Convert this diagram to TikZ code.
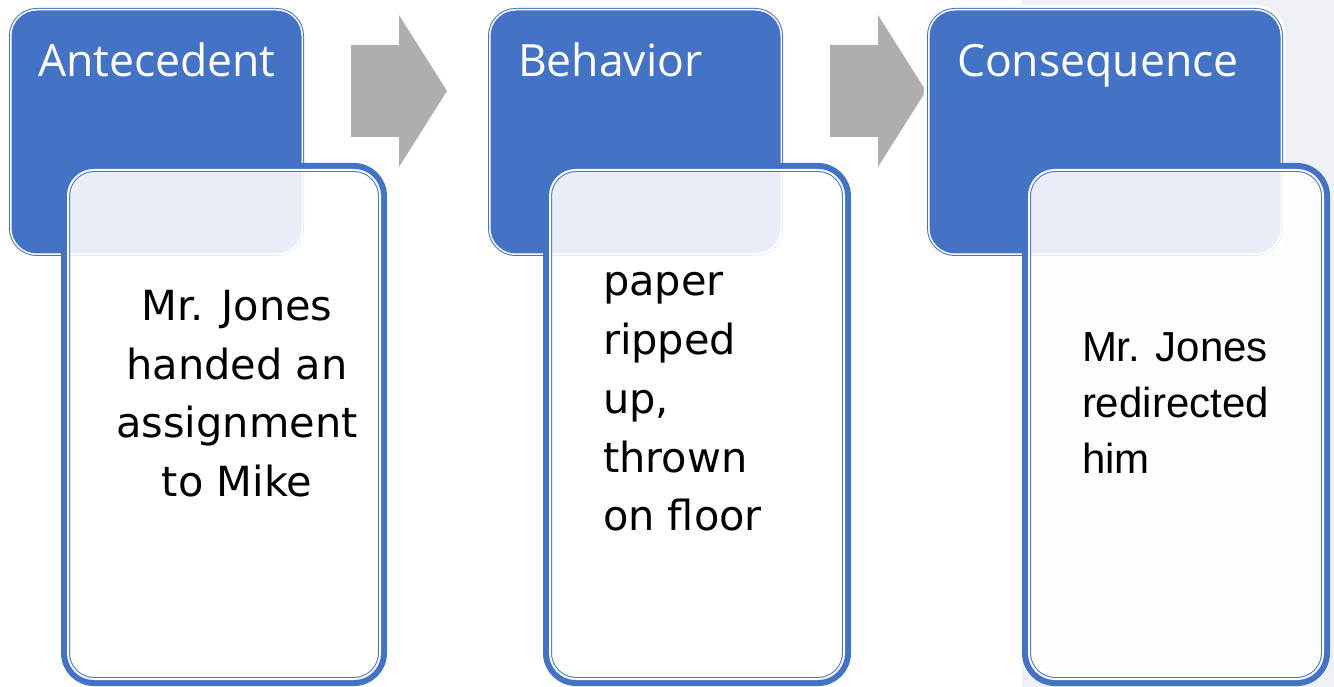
\documentclass[tikz,border=0pt]{standalone}
\usepackage{fontspec}
\usepackage{tikz}
\usetikzlibrary{calc}
\newfontfamily\headfont{Open Sans}
\newfontfamily\bodyfont{DejaVu Sans}
\newfontfamily\armfont{Liberation Sans}
\definecolor{hblue}{RGB}{68,114,196}
\definecolor{agray}{RGB}{175,174,172}
\definecolor{pane}{RGB}{238,240,245}
\newcommand{\rimwd}{6pt}

\begin{document}
\begin{tikzpicture}[x=1pt,y=-1pt,outer sep=0pt,
  head/.style={draw=hblue, line width=1pt, double=white, double distance=1.5pt,
    fill=hblue, rounded corners=26pt, anchor=north west, inner sep=0pt,
    minimum height=244.5pt, preaction={draw=white, line width=10pt}},
  rim/.style={draw=hblue, line width=\rimwd, rounded corners=30pt,
    anchor=north west, inner sep=0pt, minimum height=517pt},
  pad/.style={fill=white, fill opacity=.88, rounded corners=26pt,
    anchor=north west, inner sep=0pt, minimum height=509pt,
    postaction={draw=hblue, line width=4pt},
    postaction={draw=white, line width=2pt}},
  headtxt/.style={text=white, inner sep=0pt, anchor=base west,
    font=\headfont\fontsize{44.5}{50}\selectfont},
  bodytxt/.style={inner sep=0pt, font=\bodyfont\fontsize{41.5}{58.8}\selectfont},
  armtxt/.style={inner sep=0pt, font=\armfont\fontsize{42}{56}\selectfont}]
\useasboundingbox (0,0) rectangle (1334,687);
\fill[pane] (1022,0) rectangle (1334,687);

% arrows between the steps
\foreach \ax in {351,830}
  \fill[agray] (\ax,45) -- (\ax+48,45) -- (\ax+48,15) -- (\ax+96,91)
    -- (\ax+48,167) -- (\ax+48,137) -- (\ax,137) -- cycle;

\node[head, minimum width=291.5pt] (h1) at (10.75,9.75) {};
\node[head, minimum width=291.5pt] (h2) at (489.75,9.75) {};
\node[head, minimum width=352.5pt] (h3) at (928.75,9.75) {};

\node[headtxt] (t1) at (38,77) {Antecedent};
\node[headtxt] (t2) at (518,77) {Behavior};
\node[headtxt] (t3) at (957,77) {Consequence};

\node[rim, minimum width=320pt] (r1) at (64,166) {};
\node[rim, minimum width=302pt] (r2) at (546,166) {};
\node[rim, minimum width=302pt] (r3) at (1025,166) {};

\node[pad, minimum width=312pt] (b1) at (68,170) {};
\node[pad, minimum width=294pt] (b2) at (550,170) {};
\node[pad, minimum width=294pt] (b3) at (1029,170) {};

\node[bodytxt, align=center, anchor=north] (x1) at (237,290)
  {Mr. Jones\\handed an\\assignment\\to Mike};
\node[bodytxt, align=left, anchor=north west] (x2) at (603,272.5)
  {paper\\ripped\\up,\\thrown\\on floor};
\node[armtxt, align=left, anchor=north west] (x3) at (1082,333)
  {Mr. Jones\\redirected\\him};
\end{tikzpicture}
\end{document}
